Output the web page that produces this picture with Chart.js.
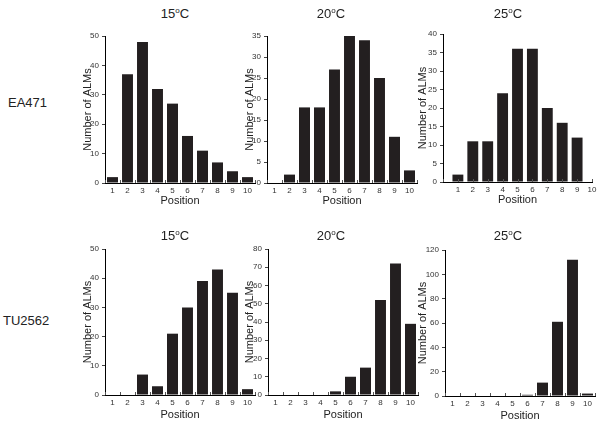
<!DOCTYPE html>
<html>
<head>
<meta charset="utf-8">
<script src="https://cdn.jsdelivr.net/npm/chart.js@4.4.1/dist/chart.umd.min.js"></script>
<style>
  body { margin:0; background:#fff; font-family:"Liberation Sans", Arial, sans-serif; }
  #page { position:relative; width:600px; height:423px; overflow:hidden; background:#fff; }
  canvas { position:absolute; }
  .lbl { position:absolute; color:#222; white-space:nowrap; line-height:1; }
  .ttl { font-size:13px; transform:translate(-50%,-50%); }
  .ttl sup { font-size:8px; vertical-align:5px; }
  .row { font-size:13px; transform:translateY(-50%); }
</style>
</head>
<body>
<div id="page"></div>
<script>
// x categories
const positionLabels = ["1","2","3","4","5","6","7","8","9","10"];

// counts per position
const ea471_15 = [2, 37, 48, 32, 27, 16, 11, 7, 4, 2];
const ea471_20 = [0, 2, 18, 18, 27, 35, 34, 25, 11, 3];
const ea471_25 = [2, 11, 11, 24, 36, 36, 20, 16, 12, 0];
const tu2562_15 = [0, 0, 7, 3, 21, 30, 39, 43, 35, 2];
const tu2562_20 = [0, 0, 0, 0, 2, 10, 15, 52, 72, 39];
const tu2562_25 = [0, 0, 0, 0, 0, 1, 11, 61, 112, 2];

// y axis ticks
const yMaxes = [50, 35, 40, 50, 80, 120];
const ySteps = [10, 5, 5, 10, 10, 20];

const temps = ["15", "20", "25"];
const strains = ["EA471", "TU2562"];

const series = [ea471_15, ea471_20, ea471_25, tu2562_15, tu2562_20, tu2562_25];

// plot areas in page pixels: left, right, top, bottom, y-title centre, x-title gap
const frames = [
  {L:105, R:255, T:36,  B:183, tx:88,  gap:18},
  {L:267, R:417, T:36,  B:183, tx:250, gap:18},
  {L:443, R:592, T:34,  B:182, tx:423, gap:18},
  {L:105, R:255, T:249, B:395, tx:88,  gap:20},
  {L:268, R:418, T:249, B:395, tx:250, gap:20},
  {L:445, R:595, T:250, B:396, tx:423, gap:20}
];
const titleXs = [175, 331, 508];
const titleYs = [13, 235];

const INK = "#231f20";
const FONT = "'Liberation Sans', Arial, sans-serif";
const page = document.getElementById("page");

// small inward ticks on the x axis
const innerTicks = {
  id: "innerTicks",
  afterDraw(chart) {
    const xs = chart.scales.x, ctx = chart.ctx;
    const marks = [];
    if (xs.type === "category") {
      const n = xs.getLabels().length;
      for (let i = 0; i <= n; i++) marks.push(xs.getPixelForValue(i - 0.5));
    } else {
      xs.ticks.forEach(t => marks.push(xs.getPixelForValue(t.value)));
    }
    ctx.save();
    ctx.strokeStyle = "#555";
    ctx.lineWidth = 1;
    marks.forEach(px => {
      const x = Math.round(px) + 0.5;
      ctx.beginPath();
      ctx.moveTo(x, xs.top);
      ctx.lineTo(x, xs.top - 3);
      ctx.stroke();
    });
    ctx.restore();
  }
};

series.forEach((vals, k) => {
  const f = frames[k];
  const padTop = 10, padRight = 8;
  const W = Math.round(f.L - f.tx + 6.6);
  const H = Math.round(f.gap + 6.6);
  const cv = document.createElement("canvas");
  const cw = W + (f.R - f.L) + padRight;
  const ch = padTop + (f.B - f.T) + H;
  cv.width = cw; cv.height = ch;
  cv.style.left = (f.L - W) + "px";
  cv.style.top = (f.T - padTop) + "px";
  cv.style.width = cw + "px"; cv.style.height = ch + "px";
  page.appendChild(cv);

  const linearX = (k === 2); // EA471 25C panel runs 0..10 with no offset
  const xScale = linearX ? {
    type: "linear", min: 0, max: 10, offset: false,
    grid: { display: false, drawTicks: false, offset: false },
    border: { display: true, color: "#000", width: 1 },
    ticks: { stepSize: 1, color: "#333", font: { family: FONT, size: 8 }, padding: 3,
             callback: v => v === 0 ? "" : String(v) },
    title: { display: true, text: "Position", color: "#222", font: { family: FONT, size: 11 }, padding: 0 },
    afterFit: s => { s.height = H; }
  } : {
    type: "category",
    grid: { display: false, drawTicks: false },
    border: { display: true, color: "#000", width: 1 },
    ticks: { color: "#333", font: { family: FONT, size: 8 }, padding: 3, maxRotation: 0, autoSkip: false },
    title: { display: true, text: "Position", color: "#222", font: { family: FONT, size: 11 }, padding: 0 },
    afterFit: s => { s.height = H; }
  };

  const data = linearX
    ? positionLabels.map((p, i) => ({ x: Number(p), y: vals[i] }))
    : vals;

  new Chart(cv, {
    type: "bar",
    data: {
      labels: linearX ? undefined : positionLabels,
      datasets: [{
        data: data,
        backgroundColor: INK,
        borderWidth: 0,
        barPercentage: 0.73,
        categoryPercentage: 1
      }]
    },
    options: {
      responsive: false,
      animation: false,
      devicePixelRatio: 1,
      layout: { padding: { top: padTop, right: padRight, left: 0, bottom: 0 } },
      plugins: { legend: { display: false }, tooltip: { enabled: false } },
      scales: {
        x: xScale,
        y: {
          min: 0, max: yMaxes[k],
          grid: { display: true, drawOnChartArea: false, drawTicks: true, tickLength: 3, color: "#444" },
          border: { display: true, color: "#000", width: 1 },
          ticks: { stepSize: ySteps[k], color: "#333", font: { family: FONT, size: 8 }, padding: 3 },
          title: { display: true, text: "Number of ALMs", color: "#222", font: { family: FONT, size: 11 }, padding: 0 },
          afterFit: s => { s.width = W; }
        }
      }
    },
    plugins: [innerTicks]
  });
});

// column titles
titleYs.forEach(ty => {
  temps.forEach((t, i) => {
    const d = document.createElement("div");
    d.className = "lbl ttl";
    d.style.left = titleXs[i] + "px";
    d.style.top = ty + "px";
    d.innerHTML = t + "<sup>o</sup>C";
    page.appendChild(d);
  });
});

// row labels
[[8, 102], [3, 320]].forEach((p, i) => {
  const d = document.createElement("div");
  d.className = "lbl row";
  d.style.left = p[0] + "px";
  d.style.top = p[1] + "px";
  d.textContent = strains[i];
  page.appendChild(d);
});
</script>
</body>
</html>
